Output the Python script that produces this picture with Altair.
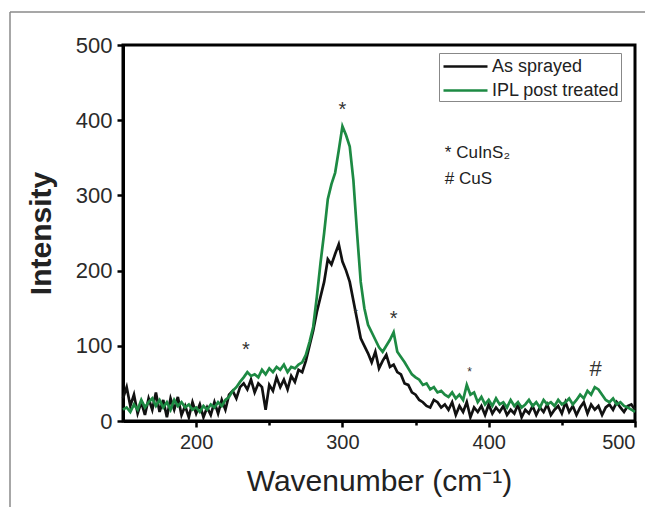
import altair as alt
import pandas as pd

# ---- data ----
wavenumber = [150 + 2.5 * i for i in range(141)]  # 150 ... 500 cm^-1

as_sprayed = [
    30, 45, 20, 35, 10, 25, 8, 30, 15, 38,
    12, 28, 5, 30, 15, 32, 8, 20, 5, 25,
    10, 22, 5, 18, 8, 25, 10, 28, 15, 35,
    40, 30, 45, 50, 42, 55, 38, 50, 45, 15,
    48, 40, 58, 45, 55, 42, 60, 52, 68, 65,
    80, 100, 120, 145, 165, 185, 215, 208, 222, 235,
    212, 200, 185, 160, 135, 110, 100, 90, 78, 92,
    70, 80, 88, 72, 75, 65, 62, 50, 48, 38,
    35, 28, 25, 20, 18, 28, 25, 18, 22, 15,
    25, 8, 20, 12, 25, 5, 18, 12, 20, 8,
    22, 10, 18, 12, 20, 8, 15, 10, 22, 5,
    15, 10, 20, 8, 18, 12, 22, 8, 15, 20,
    10, 25, 12, 20, 8, 18, 25, 10, 22, 15,
    20, 8, 18, 22, 15, 25, 18, 12, 20, 22,
    15,
]

ipl_treated = [
    15, 18, 12, 22, 15, 28, 18, 25, 30, 20,
    28, 18, 25, 15, 28, 20, 25, 18, 22, 15,
    18, 12, 20, 15, 22, 18, 25, 20, 28, 32,
    40, 45, 52, 58, 65, 60, 62, 58, 68, 62,
    70, 65, 72, 68, 75, 65, 72, 70, 75, 78,
    88, 105, 125, 165, 210, 250, 295, 315, 330, 360,
    392, 380, 365, 320, 250, 185, 150, 128, 118, 108,
    98, 92, 100, 108, 118, 92, 85, 78, 70, 62,
    58, 55, 48, 50, 42, 45, 38, 40, 35, 32,
    38, 30, 35, 28, 48, 35, 38, 25, 32, 22,
    28, 20, 30, 22, 25, 18, 28, 20, 25, 18,
    22, 28, 20, 25, 18, 28, 22, 25, 20, 28,
    22, 25, 30, 22, 28, 35, 30, 40, 35, 45,
    42, 35, 28, 25, 30, 22, 25, 20, 18, 15,
    12,
]

series_names = ["As sprayed", "IPL post treated"]
series_colors = ["#111111", "#1d8a43"]

x_ticks = [200, 250, 300, 350, 400, 450, 500]
y_ticks = [0, 50, 100, 150, 200, 250, 300, 350, 400, 450, 500]

# peak markers
mark_x = [234, 300, 309, 335, 387, 473]
mark_y = [102, 421, 150, 143, 73, 77]
mark_text = ["*", "*", "*", "*", "*", "#"]
mark_size = [20, 20, 11, 20, 12, 22]

# phase key
key_x = [370, 370]
key_y = [356, 322]
key_text = ["* CuInS\u2082", "# CuS"]

FONT = "Liberation Sans"

df = pd.DataFrame({
    "wavenumber": wavenumber * 2,
    "intensity": as_sprayed + ipl_treated,
    "series": [series_names[0]] * len(wavenumber) + [series_names[1]] * len(wavenumber),
})
marks_df = pd.DataFrame({"x": mark_x, "y": mark_y, "t": mark_text, "s": mark_size})
key_df = pd.DataFrame({"x": key_x, "y": key_y, "t": key_text})

x_scale = alt.Scale(domain=[150, 500], nice=False, zero=False)
y_scale = alt.Scale(domain=[0, 500], nice=False)

major = lambda big, small: {"condition": {"test": "datum.value % 100 === 0", "value": big}, "value": small}

lines = alt.Chart(df).mark_line(strokeWidth=2.7).encode(
    x=alt.X("wavenumber:Q", scale=x_scale,
            axis=alt.Axis(values=x_ticks, title="Wavenumber (cm\u207b\u00b9)",
                          labelExpr="datum.value % 100 === 0 ? datum.label : ''",
                          tickSize=major(6, 4), labelPadding=5, labelFontSize=20,
                          titleFontSize=30, titleFontWeight="normal", titlePadding=14)),
    y=alt.Y("intensity:Q", scale=y_scale,
            axis=alt.Axis(values=y_ticks, title="Intensity",
                          labelExpr="datum.value % 100 === 0 ? datum.label : ''",
                          tickSize=major(6, 4), labelPadding=5, labelFontSize=22,
                          titleFontSize=30, titleFontWeight="bold", titlePadding=19)),
    color=alt.Color("series:N",
                    scale=alt.Scale(domain=series_names, range=series_colors),
                    legend=alt.Legend(orient="none", legendX=316, legendY=8, title=None,
                                      symbolType="M-2,0H2", symbolSize=484,
                                      symbolStrokeWidth=2.7, symbolOffset=13,
                                      labelOffset=14, labelFontSize=18, labelFont=FONT,
                                      labelColor="#222222", rowPadding=2, padding=1,
                                      strokeColor="#888888")),
    order=alt.Order("series:N"),
)

peaks = alt.Chart(marks_df).mark_text(color="#333333", font=FONT, baseline="middle", dy=6).encode(
    x=alt.X("x:Q", scale=x_scale),
    y=alt.Y("y:Q", scale=y_scale),
    text="t:N",
    size=alt.Size("s:Q", scale=None, legend=None),
)

key = alt.Chart(key_df).mark_text(color="#222222", font=FONT, fontSize=17, align="left",
                                  baseline="middle").encode(
    x=alt.X("x:Q", scale=x_scale),
    y=alt.Y("y:Q", scale=y_scale),
    text="t:N",
)

# thin grey frame of the original figure panel (top and left edges)
frame_df = pd.DataFrame({"k": [0]})
frame_top = alt.Chart(frame_df).mark_rule(color="#8a8a8a", strokeWidth=1.5).encode(
    x=alt.value(-113), x2=alt.value(545), y=alt.value(-33))
frame_left = alt.Chart(frame_df).mark_rule(color="#8a8a8a", strokeWidth=1.5).encode(
    x=alt.value(-113), y=alt.value(-33), y2=alt.value(470))

chart = alt.layer(frame_top, frame_left, lines, peaks, key).properties(
    width=512, height=376,
    autosize=alt.AutoSizeParams(type="none"),
    padding={"left": 115, "top": 37, "right": 10, "bottom": 86},
).configure_view(
    stroke="black", strokeWidth=3,
).configure_axis(
    grid=False, domainColor="black", domainWidth=3,
    tickColor="black", tickWidth=2.5,
    labelFont=FONT, labelColor="#2a2a2a",
    titleFont=FONT, titleColor="#222222",
)

chart.save("out.html", embed_options={"renderer": "svg", "actions": False})
